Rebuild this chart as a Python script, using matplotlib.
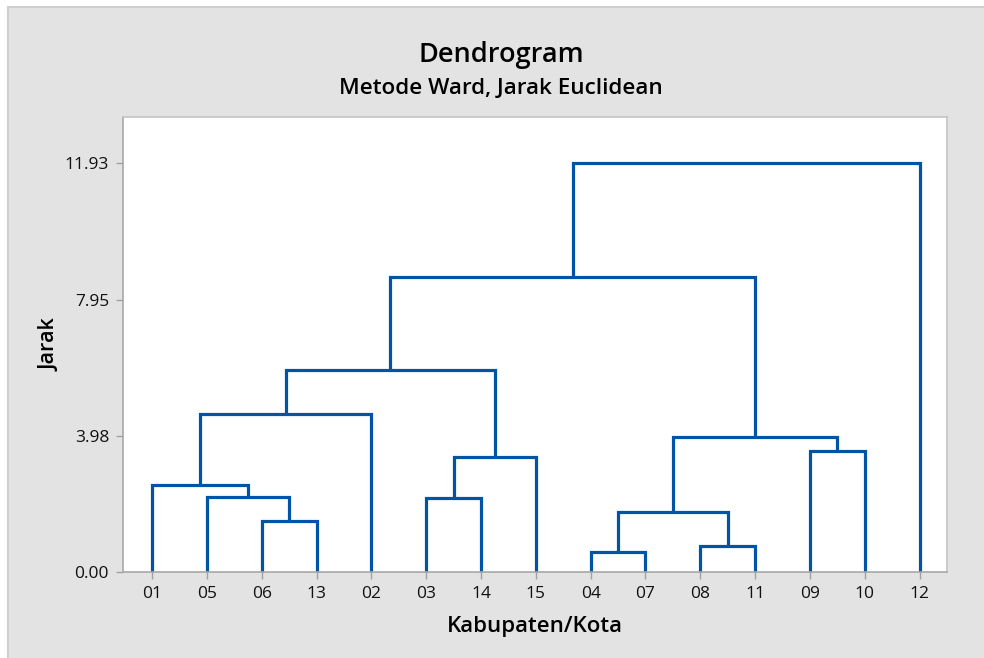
import matplotlib
matplotlib.use("Agg")
import matplotlib.pyplot as plt
from matplotlib.patches import Rectangle

plt.rcParams['font.family'] = ['Open Sans', 'DejaVu Sans']

# urutan daun pada sumbu x
leaf_labels = ['01', '05', '06', '13', '02', '03', '14', '15',
               '04', '07', '08', '11', '09', '10', '12']

# penggabungan cluster (metode Ward): kiri, kanan, jarak
merge_name = ['A', 'B', 'C', 'D', 'E', 'F', 'G', 'H', 'I', 'J', 'K', 'L', 'M', 'N']
merge_left = ['04', '08', '06', 'A', '03', '05', '01', 'E', '09', 'D', 'G', 'K', 'L', 'M']
merge_right = ['07', '11', '13', 'B', '14', 'C', 'F', '15', '10', 'I', '02', 'H', 'J', '12']
merge_height = [0.59, 0.77, 1.49, 1.74, 2.16, 2.19, 2.53, 3.37, 3.54, 3.94, 4.61, 5.90, 8.61, 11.93]

y_ticks = [0.00, 3.98, 7.95, 11.93]

line_color = '#0054a6'

fig = plt.figure(figsize=(9.84, 6.58), dpi=100)
fig.patch.set_facecolor('white')
fig.patches.append(Rectangle((8 / 984, -0.05), 1.0, 1 - 7 / 658 + 0.05,
                             transform=fig.transFigure, facecolor='#e3e3e3',
                             edgecolor='#cfcfcf', linewidth=1.5, zorder=-5))

ax = fig.add_axes([123 / 984, 86 / 658, 824 / 984, 455 / 658])
ax.set_facecolor('white')

# posisi tiap node
pos = {lab: (i + 1, 0.0) for i, lab in enumerate(leaf_labels)}
for name, a, b, h in zip(merge_name, merge_left, merge_right, merge_height):
    xa, ya = pos[a]
    xb, yb = pos[b]
    ax.plot([xa, xa, xb, xb], [ya, h, h, yb], color=line_color, lw=2.3,
            solid_joinstyle='miter', solid_capstyle='butt', clip_on=False)
    pos[name] = ((xa + xb) / 2, h)

ax.set_xlim(0.47, 15.5)
ax.set_ylim(0, 13.28)
ax.set_xticks(range(1, len(leaf_labels) + 1))
ax.set_xticklabels(leaf_labels)
ax.set_yticks(y_ticks)
ax.set_yticklabels([f'{v:.2f}' for v in y_ticks])

for side, sp in ax.spines.items():
    sp.set_color('#a8a8a8' if side in ('left', 'bottom') else '#c4c4c4')
    sp.set_linewidth(1.2)

ax.tick_params(axis='both', colors='#a0a0a0', length=5, width=1,
               labelcolor='#111111', labelsize=12.5, pad=5)
for lbl in ax.get_xticklabels() + ax.get_yticklabels():
    lbl.set_fontweight('medium')

ax.set_xlabel('Kabupaten/Kota', fontsize=16, fontweight='semibold', labelpad=10)
ax.set_ylabel('Jarak', fontsize=15.5, fontweight='semibold', labelpad=3)

fig.text(0.509, 0.917, 'Dendrogram', ha='center', va='center',
         fontsize=19.5, fontweight='semibold')
fig.text(0.509, 0.866, 'Metode Ward, Jarak Euclidean', ha='center', va='center',
         fontsize=16.2, fontweight='semibold')

plt.savefig('out.png', dpi=100)
